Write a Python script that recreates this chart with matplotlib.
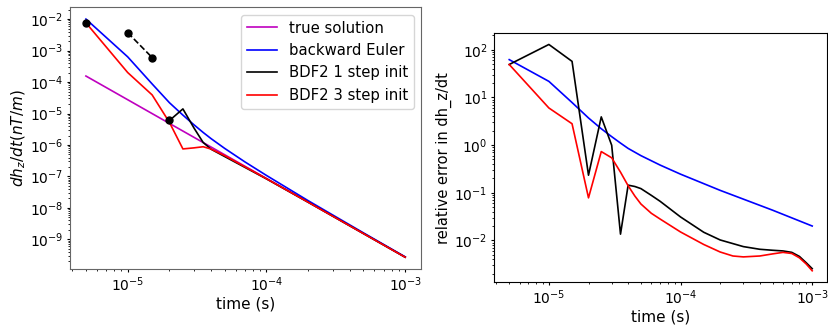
import numpy as np
import matplotlib
matplotlib.use("Agg")
import matplotlib.pyplot as plt

# ---- left panel: dh_z/dt values ----
t_true = [5e-6, 1e-5, 2e-5, 5e-5, 1e-4, 2e-4, 5e-4, 1e-3]
v_true = [1.55e-4, 2.74e-5, 4.84e-6, 4.9e-7, 8.66e-8, 1.53e-8, 1.55e-9, 2.74e-10]

t_be = [5e-6, 1e-5, 1.5e-5, 2e-5, 2.5e-5, 3e-5, 3.5e-5, 4e-5, 5e-5, 7e-5, 1e-4, 2e-4, 5e-4, 1e-3]
v_be = [1.0e-2, 6.3e-4, 8.7e-5, 2.2e-5, 8.9e-6, 4.4e-6, 2.5e-6, 1.58e-6, 7.8e-7, 2.9e-7,
        1.08e-7, 1.70e-8, 1.62e-9, 2.8e-10]

t_bdf1 = [2e-5, 2.5e-5, 3e-5, 3.5e-5, 4e-5, 5e-5, 1e-4, 2e-4, 5e-4, 1e-3]
v_bdf1 = [6.0e-6, 1.4e-5, 3.5e-6, 1.2e-6, 7.3e-7, 4.3e-7, 8.4e-8, 1.52e-8, 1.54e-9, 2.73e-10]

t_bdf3 = [5e-6, 1e-5, 1.5e-5, 2e-5, 2.5e-5, 3e-5, 3.5e-5, 4e-5, 5e-5, 1e-4, 2e-4, 5e-4, 1e-3]
v_bdf3 = [7.6e-3, 2.0e-4, 3.9e-5, 5.2e-6, 7.5e-7, 8.1e-7, 8.8e-7, 7.4e-7, 4.6e-7,
          8.5e-8, 1.52e-8, 1.54e-9, 2.73e-10]

# black start-up dots
t_dots = [5e-6, 2e-5]
v_dots = [7.6e-3, 6.0e-6]
t_dash = [1e-5, 1.5e-5]
v_dash = [3.7e-3, 6.0e-4]

# ---- right panel: relative error ----
t_err_be = [5e-6, 1e-5, 1.5e-5, 2e-5, 2.5e-5, 3e-5, 3.5e-5, 4e-5, 5e-5, 7e-5,
            1e-4, 2e-4, 5e-4, 1e-3]
e_be = [62, 21.7, 7.8, 3.7, 2.2, 1.5, 1.1, 0.85, 0.6, 0.38,
        0.245, 0.112, 0.043, 0.02]

t_err_b1 = [5e-6, 1e-5, 1.5e-5, 2e-5, 2.5e-5, 3e-5, 3.5e-5, 4e-5, 4.5e-5, 5e-5,
            6e-5, 7e-5, 1e-4, 1.5e-4, 2e-4, 3e-4, 4e-4, 5e-4, 6e-4, 7e-4,
            8e-4, 9e-4, 1e-3]
e_b1 = [49, 129, 57, 0.233, 3.9, 0.99, 0.0135, 0.144, 0.135, 0.122,
        0.088, 0.066, 0.031, 0.0148, 0.0102, 0.0074, 0.0065, 0.0062, 0.006, 0.0056,
        0.0046, 0.0034, 0.00255]

t_err_b3 = [5e-6, 1e-5, 1.5e-5, 2e-5, 2.5e-5, 3e-5, 3.5e-5, 4e-5, 4.5e-5, 5e-5,
            6e-5, 7e-5, 1e-4, 1.5e-4, 2e-4, 2.5e-4, 3e-4, 4e-4, 5e-4, 6e-4,
            7e-4, 8e-4, 9e-4, 1e-3]
e_b3 = [49, 6.0, 2.8, 0.078, 0.73, 0.54, 0.27, 0.14, 0.085, 0.058,
        0.037, 0.028, 0.015, 0.0082, 0.0057, 0.0047, 0.0045, 0.0047, 0.0052, 0.0056,
        0.0053, 0.0043, 0.0032, 0.0023]

lw = 1.2

plt.rcParams['xtick.major.size'] = 2.5
plt.rcParams['ytick.major.size'] = 2.5
plt.rcParams['xtick.minor.size'] = 1.5
plt.rcParams['ytick.minor.size'] = 1.5
plt.rcParams['xtick.major.pad'] = 2.2
plt.rcParams['ytick.major.pad'] = 2.2
plt.rcParams['axes.labelpad'] = 1.5

fig = plt.figure(figsize=(8.29, 3.25), dpi=100)

# left axes
ax1 = fig.add_axes([0.0844, 0.172, 0.4236, 0.806])
ax1.loglog(t_true, v_true, color='m', lw=lw, label='true solution')
ax1.loglog(t_be, v_be, color='b', lw=lw, label='backward Euler')
ax1.loglog(t_bdf1, v_bdf1, color='k', lw=lw, label='BDF2 1 step init')
ax1.loglog(t_bdf3, v_bdf3, color='r', lw=lw, label='BDF2 3 step init')
ax1.loglog(t_dots, v_dots, 'ko', ms=5)
ax1.loglog(t_dash, v_dash, 'ko--', ms=5, lw=lw)
ax1.set_xlabel('time (s)', fontsize=11)
ax1.set_ylabel(r'$dh_z/dt (nT/m)$', fontsize=11)
ax1.legend(loc='upper right', fontsize=10.7)
for s in ax1.spines.values():
    s.set_color('0.4')

# right axes
ax2 = fig.add_axes([0.596, 0.132, 0.402, 0.766])
ax2.loglog(t_err_be, e_be, color='b', lw=lw)
ax2.loglog(t_err_b1, e_b1, color='k', lw=lw)
ax2.loglog(t_err_b3, e_b3, color='r', lw=lw)
ax2.set_xlabel('time (s)', fontsize=11)
ax2.set_ylabel('relative error in dh_z/dt', fontsize=10.5)

fig.savefig('out.png', dpi=100)
